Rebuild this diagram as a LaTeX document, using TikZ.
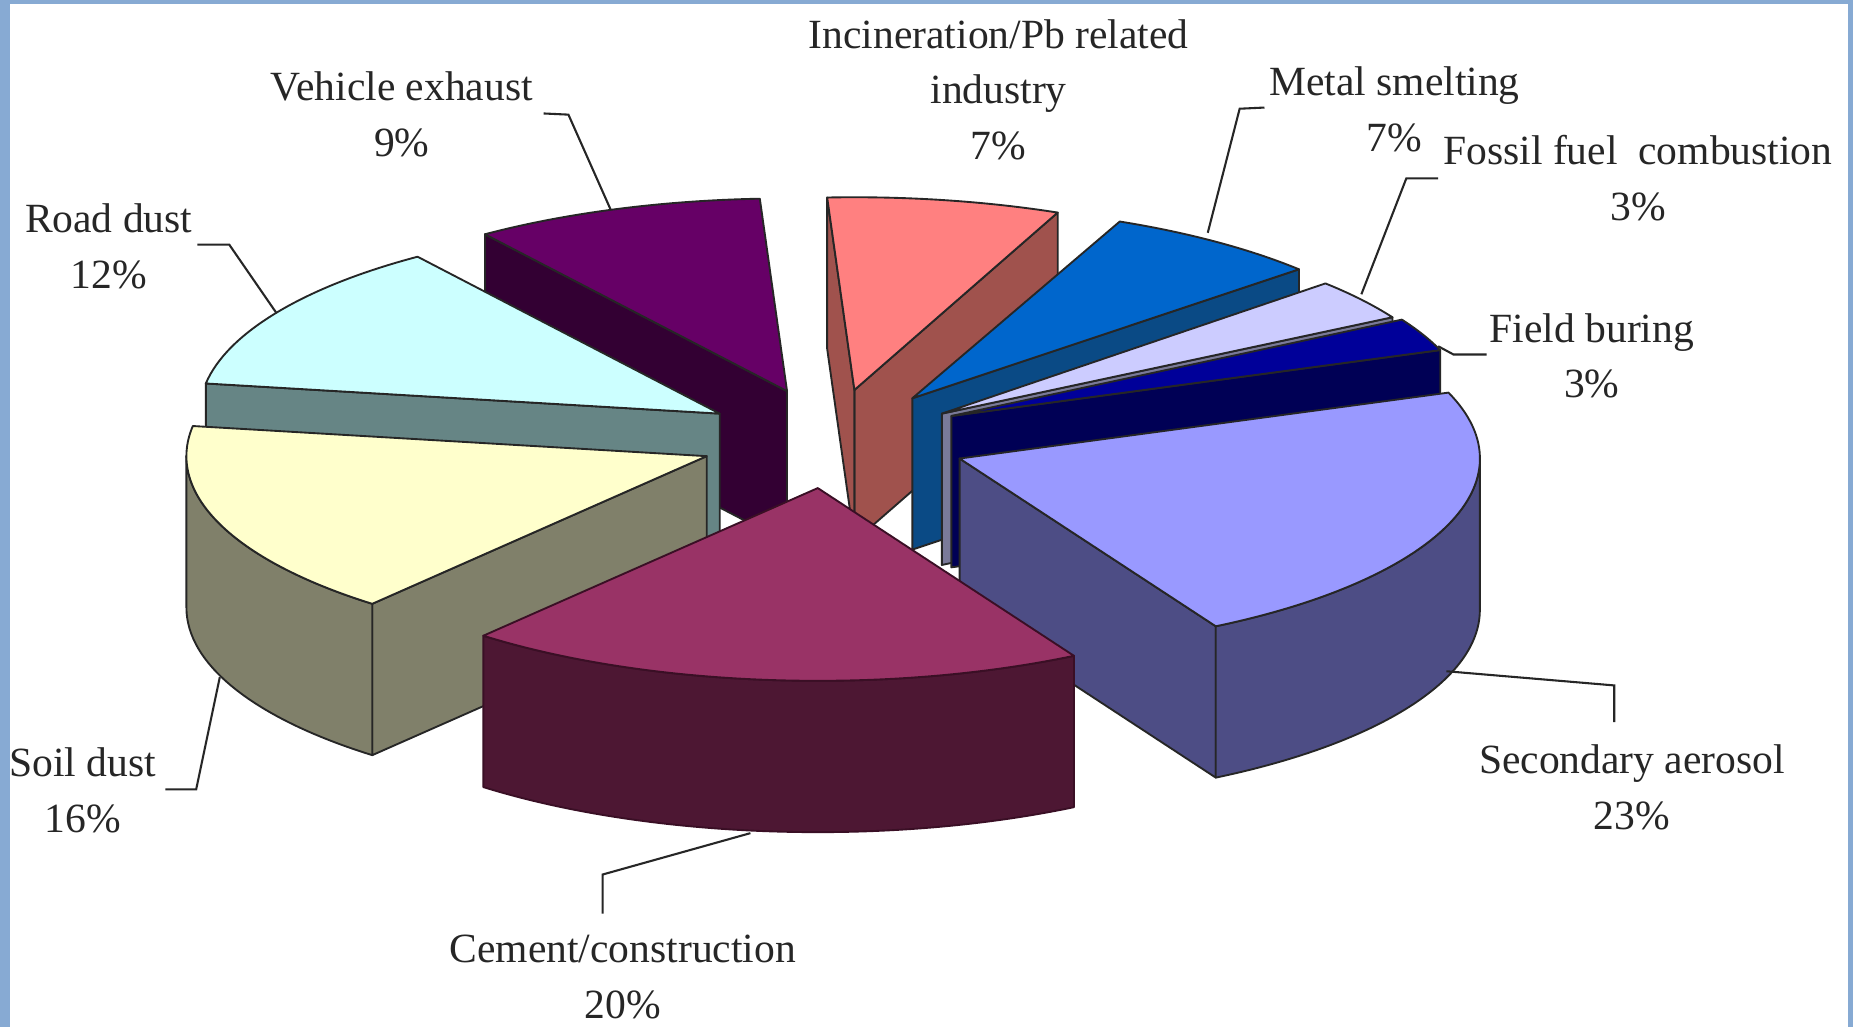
\documentclass[tikz,border=0pt]{standalone}
\usepackage{fontspec}
\setmainfont{Liberation Serif}

\definecolor{bgblue}{HTML}{87AAD3}
\definecolor{sectop}{HTML}{9999FF}
\definecolor{secside}{HTML}{4D4D85}
\definecolor{cemtop}{HTML}{993366}
\definecolor{cemside}{HTML}{4D1733}
\definecolor{cemline}{HTML}{3A0F25}
\definecolor{soiltop}{HTML}{FFFFCC}
\definecolor{soilside}{HTML}{80806A}
\definecolor{roadtop}{HTML}{CCFFFF}
\definecolor{roadside}{HTML}{668585}
\definecolor{vehtop}{HTML}{660066}
\definecolor{vehside}{HTML}{330033}
\definecolor{inctop}{HTML}{FF8080}
\definecolor{incside}{HTML}{A0524D}
\definecolor{mettop}{HTML}{0066CC}
\definecolor{metside}{HTML}{0A4A85}
\definecolor{fostop}{HTML}{CCCCFF}
\definecolor{fosside}{HTML}{7A7A99}
\definecolor{fldtop}{HTML}{000099}
\definecolor{fldside}{HTML}{000055}

\newcommand{\piea}{4.4cm }
\newcommand{\pieb}{1.63cm }
\newcommand{\pieh}{1.28cm}

\newcommand{\pietop}[4]{
  \filldraw[pieface,fill=#4] (#1) -- ++(#2:\piea and \pieb)
    arc[start angle=#2,end angle=#3,x radius=\piea,y radius=\pieb] -- cycle;
}
\newcommand{\piewall}[3]{
  \filldraw[pieface,fill=#3] (#1) -- ++(#2:\piea and \pieb) -- ++(0,-\pieh)
    -- ++(#2+180:\piea and \pieb) -- cycle;
}
\newcommand{\pierim}[4]{
  \filldraw[pieface,fill=#4] (#1) ++(#2:\piea and \pieb)
    arc[start angle=#2,end angle=#3,x radius=\piea,y radius=\pieb] -- ++(0,-\pieh)
    arc[start angle=#3,end angle=#2,x radius=\piea,y radius=\pieb] -- cycle;
}

\begin{document}
\begin{tikzpicture}[x=0.01cm,y=0.01cm,
    pieface/.style={draw=black!85,line width=0.45pt,line join=round},
    lbl/.style={align=center,font=\fontsize{10}{13.4}\selectfont,text=black!85},
    leader/.style={draw=black!85,line width=0.5pt}]
  \useasboundingbox (0,0) rectangle (1568,-869);
  \fill[bgblue] (0,0) rectangle (1568,-869);
  \fill[white] (8.5,-3.5) rectangle (1564,-869);

  \coordinate (veh) at (666,-331);
  \coordinate (inc) at (723,-330);
  \coordinate (met) at (772,-337);
  \coordinate (fos) at (797,-350);
  \coordinate (fld) at (805,-352);
  \coordinate (road) at (609,-350);
  \coordinate (soil) at (598,-386);
  \coordinate (sec) at (812,-388);
  \coordinate (cem) at (692,-413);

  \piewall{veh}{125.5}{vehside}
  \pietop{veh}{93}{125.5}{vehtop}

  \piewall{inc}{67}{incside}
  \piewall{inc}{93}{incside}
  \pietop{inc}{67}{93}{inctop}

  \piewall{met}{42}{metside}
  \pietop{met}{42}{66.5}{mettop}

  \piewall{fos}{30}{fosside}
  \pietop{fos}{30}{42.5}{fostop}

  \piewall{fld}{20}{fldside}
  \pietop{fld}{20}{30}{fldtop}

  \piewall{road}{171}{roadside}
  \pietop{road}{125.5}{171}{roadtop}

  \piewall{soil}{230}{soilside}
  \pierim{soil}{180}{230}{soilside}
  \pietop{soil}{171}{230}{soiltop}

  \piewall{sec}{-60.5}{secside}
  \pierim{sec}{-60.5}{0}{secside}
  \pietop{sec}{-60.5}{20}{sectop}

  \begin{scope}[pieface/.append style={draw=cemline}]
    \pierim{cem}{230}{299.5}{cemside}
    \pietop{cem}{230}{299.5}{cemtop}
  \end{scope}

  \node[lbl] (vehlbl) at (340,-96.5) {Vehicle exhaust\\9\%};
  \node[lbl] (roadlbl) at (92,-208.5) {Road dust\\12\%};
  \node[lbl] (inclbl) at (845,-76) {Incineration/Pb related\\industry\\7\%};
  \node[lbl] (metlbl) at (1180,-92.5) {Metal smelting\\7\%};
  \node[lbl] (foslbl) at (1386,-151) {Fossil fuel\ \ combustion\\3\%};
  \node[lbl] (fldlbl) at (1347,-301) {Field buring\\3\%};
  \node[lbl] (seclbl) at (1381,-666) {Secondary aerosol\\23\%};
  \node[lbl] (cemlbl) at (527,-827) {Cement/construction\\20\%};
  \node[lbl] (soillbl) at (70,-669) {Soil dust\\16\%};

  \coordinate (v1) at (460,-96);
  \coordinate (v2) at (481,-97);
  \coordinate (v3) at (517,-178);
  \coordinate (r1) at (167,-207);
  \coordinate (r2) at (194,-207);
  \coordinate (r3) at (234,-265);
  \coordinate (m1) at (1070,-91);
  \coordinate (m2) at (1049,-92);
  \coordinate (m3) at (1022,-197);
  \coordinate (f1) at (1217,-151);
  \coordinate (f2) at (1190,-151);
  \coordinate (f3) at (1152,-249);
  \coordinate (b1) at (1258,-300);
  \coordinate (b2) at (1230,-300);
  \coordinate (b3) at (1217,-293);
  \coordinate (s1) at (1224,-568);
  \coordinate (s2) at (1366,-580);
  \coordinate (s3) at (1366,-611);
  \coordinate (c1) at (510,-773);
  \coordinate (c2) at (510,-740);
  \coordinate (c3) at (635,-705);
  \coordinate (d1) at (140,-668);
  \coordinate (d2) at (166,-668);
  \coordinate (d3) at (186,-573);

  \draw[leader] (v1) -- (v2) -- (v3);
  \draw[leader] (r1) -- (r2) -- (r3);
  \draw[leader] (m1) -- (m2) -- (m3);
  \draw[leader] (f1) -- (f2) -- (f3);
  \draw[leader] (b1) -- (b2) -- (b3);
  \draw[leader] (s1) -- (s2) -- (s3);
  \draw[leader] (c1) -- (c2) -- (c3);
  \draw[leader] (d1) -- (d2) -- (d3);
\end{tikzpicture}
\end{document}
